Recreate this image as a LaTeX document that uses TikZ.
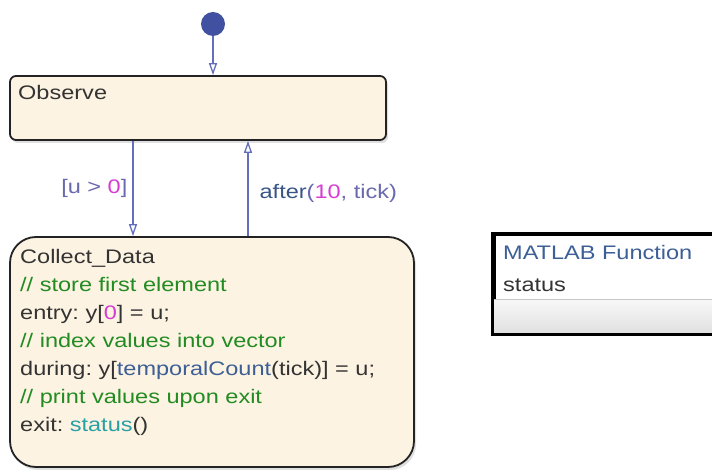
\documentclass[tikz,border=0pt]{standalone}
\usepackage{fontspec}
\setmainfont{Liberation Sans}[FakeStretch=1.2]
\usepackage{xcolor}
\usepackage{tikz}
\usetikzlibrary{arrows.meta, positioning, shadows}
\frenchspacing

\definecolor{stateborder}{RGB}{35,35,35}
\definecolor{statefill}{RGB}{253,243,226}
\definecolor{textdark}{RGB}{51,51,51}
\definecolor{commentgreen}{RGB}{34,139,34}
\definecolor{numpink}{RGB}{215,60,210}
\definecolor{fcnblue}{RGB}{60,95,150}
\definecolor{statusteal}{RGB}{40,160,165}
\definecolor{transline}{RGB}{100,110,190}
\definecolor{transtext}{RGB}{105,105,175}
\definecolor{eventblue}{RGB}{55,85,135}
\definecolor{initdot}{RGB}{65,80,160}

\newcommand{\numtxt}[1]{\textcolor{numpink}{#1}}
\newcommand{\cmttxt}[1]{\textcolor{commentgreen}{#1}}

\begin{document}
\begin{tikzpicture}[
        x=1pt, y=-1pt,
        codefont/.style={font=\fontsize{19.6pt}{28pt}\selectfont, text=textdark},
        statebox/.style={rectangle, draw=stateborder, line width=1.8pt, fill=statefill, drop shadow={shadow xshift=2pt, shadow yshift=-3pt, opacity=0.25}},
        statetext/.style={codefont, anchor=base west, inner sep=0pt, align=left, text width=380pt},
        fcnbox/.style={rectangle, draw=black, line width=3pt, fill=white, drop shadow={shadow xshift=2pt, shadow yshift=-3pt, opacity=0.2}},
        trans/.style={-{Triangle[open, length=12pt, width=8pt]}, line width=1.3pt, color=transline},
        initstate/.style={circle, fill=initdot, minimum size=24pt, inner sep=0pt}
    ]

    % Page frame
    \clip (0,0) rectangle (712,470);
    \fill[white] (0,0) rectangle (712,470);

    % States
    \node[statebox, rounded corners=6pt, minimum width=376pt, minimum height=64pt] (observe) at (198,108) {};
    \node[statebox, rounded corners=26pt, minimum width=404pt, minimum height=230pt] (collect) at (212,352) {};

    \node[statetext] (observe_txt) at (18,100) {Observe};
    \node[statetext] (collect_txt) at (20,264) {Collect\_Data\\
        \cmttxt{// store first element}\\
        entry: y[\numtxt{0}] = u;\\
        \cmttxt{// index values into vector}\\
        during: y[\textcolor{fcnblue}{temporalCount}(tick)] = u;\\
        \cmttxt{// print values upon exit}\\
        exit: \textcolor{statusteal}{status}()};

    % Default transition
    \node[initstate] (init) at (213,24) {};
    \draw[trans] (init) -- (init |- observe.north);

    % Transitions between states
    \coordinate (down_x) at (133,0);
    \coordinate (up_x) at (248,0);
    \draw[trans] (down_x |- observe.south) -- node[midway, left=5pt, codefont, text=transtext, inner sep=0pt] (cond_lbl) {[u > \numtxt{0}]} (down_x |- collect.north);
    \draw[trans] (up_x |- collect.north) -- node[pos=0.45, right=11pt, codefont, text=transtext, inner sep=0pt] (after_lbl) {\textcolor{eventblue}{after}(\numtxt{10}, tick)} (up_x |- observe.south);

    % MATLAB function
    \node[fcnbox, minimum width=248pt, minimum height=98pt] (fcn) at (618,284) {};
    \shade[top color=white!97!black, bottom color=white!88!black] ([xshift=1.5pt]fcn.west |- 0,300) rectangle ([xshift=-1.5pt, yshift=1.5pt]fcn.south east);
    \draw[black!22, line width=1pt] ([xshift=1.5pt]fcn.west |- 0,300) -- ([xshift=-1.5pt]fcn.east |- 0,300);
    \draw[black, line width=3pt] (fcn.north west) rectangle (fcn.south east);
    \node[codefont, anchor=base west, inner sep=0pt, text=fcnblue] (fcn_title) at (503,260) {MATLAB Function};
    \node[codefont, anchor=base west, inner sep=0pt] (fcn_name) at (503,291) {status};

\end{tikzpicture}
\end{document}
